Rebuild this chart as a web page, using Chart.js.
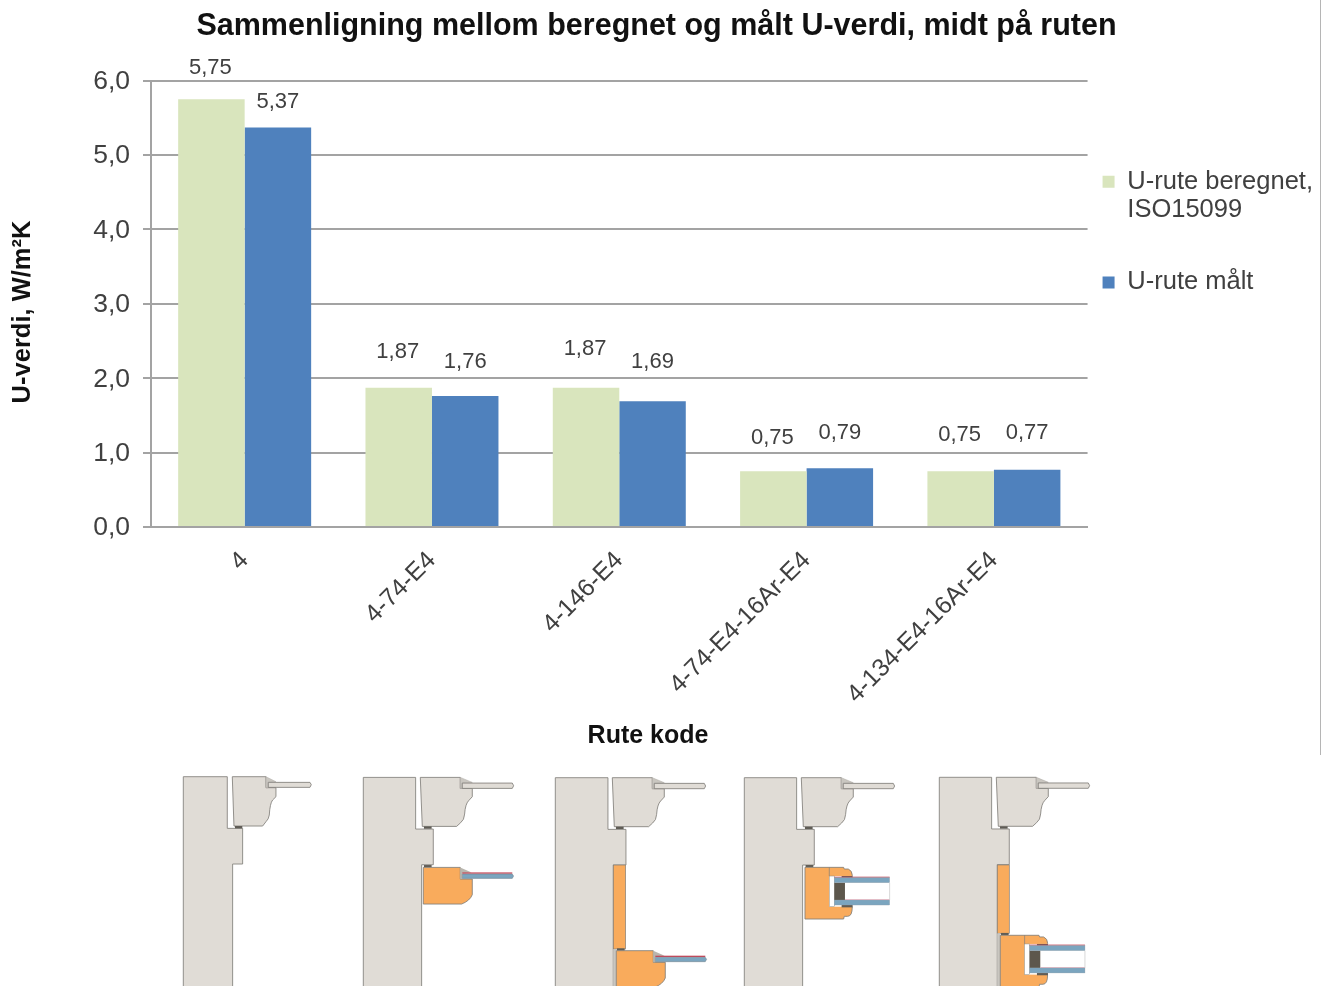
<!DOCTYPE html>
<html>
<head>
<meta charset="utf-8">
<title>U-verdi</title>
<script src="https://cdn.jsdelivr.net/npm/chart.js@4"></script>
<style>
html, body { margin: 0; padding: 0; background: #fff; overflow: hidden; }
#wrap { position: relative; width: 1330px; height: 986px; overflow: hidden; filter: blur(.45px); }
canvas { display: block; }
svg { position: absolute; left: 0; top: 0; }
#edge { position: absolute; left: 1320px; top: 0; width: 1px; height: 755px; background: #b5b5b5; }
</style>
</head>
<body>
<div id="wrap">
<canvas id="grafUverdi" width="1330" height="986"></canvas>
<div id="edge"></div>
<svg width="1330" height="986" viewBox="0 0 1330 986">
  <defs>
    <!-- karm og ramme, tegnet i 3x enheter -->
    <g id="ramme">
      <path d="M171 0H291V33H327V58L316 70Q306 80 304 110Q303 128 292 136L280 147H177Z" fill="#e0dcd6" stroke="#7f7d78" stroke-width="2.5"/>
      <path d="M291 0L327 15L297 17V33H291Z" fill="#c9c6c0" stroke="#a9a6a0" stroke-width="1.5"/>
      <path d="M297 17H447L451 25L447 33H297Z" fill="#e0dcd6" stroke="#7f7d78" stroke-width="2.5"/>
      <rect x="182" y="147" width="23" height="7" fill="#5f5c55"/>
    </g>
    <path id="karm" d="M0 0H157V155H210V262H175V640H0Z" fill="#e0dcd6" stroke="#7f7d78" stroke-width="2.5"/>
    <!-- enkel rute med oransje ramme -->
    <g id="enkel">
      <rect x="2" y="-7" width="23" height="7" fill="#5f5c55"/>
      <path d="M0 0H111V35H147V82Q140 100 115 110H0Z" fill="#f9ab5c" stroke="#7f7d78" stroke-width="2.5"/>
      <path d="M111 0L145 15L117 18V35H111Z" fill="#b9b6ae"/>
      <rect x="117" y="15" width="150" height="4" fill="#c4485a"/>
      <path d="M117 20H267L271 26L267 33H117Z" fill="#7ba5bf" stroke="#6f7c86" stroke-width="1.5"/>
    </g>
    <!-- dobbel rute med oransje ramme -->
    <g id="dobbel">
      <rect x="2" y="-7" width="23" height="7" fill="#5f5c55"/>
      <path d="M0 0H116L118 5H130Q142 10 142 24V118Q142 147 128 147H118L116 155H0Z" fill="#f9ab5c" stroke="#7f7d78" stroke-width="2.5"/>
      <path d="M73 0V26" stroke="#7f7d78" stroke-width="2" fill="none"/>
      <rect x="73" y="26" width="100" height="92" fill="#fff"/>
      <rect x="73" y="26" width="15" height="92" fill="#fff" stroke="#8a8880" stroke-width="1.5"/>
      <rect x="110" y="26" width="33" height="5" fill="#5f5c55"/>
      <rect x="110" y="113" width="33" height="7" fill="#5f5c55"/>
      <rect x="88" y="46" width="32" height="52" fill="#5d574c"/>
      <rect x="88" y="28" width="166" height="3" fill="#c4485a"/>
      <rect x="88" y="31" width="166" height="15" fill="#7ba5bf" stroke="#8e9aa3" stroke-width="1"/>
      <rect x="120" y="96" width="134" height="2" fill="#e9a3b4"/>
      <rect x="88" y="98" width="166" height="15" fill="#7ba5bf" stroke="#8e9aa3" stroke-width="1"/>
      <path d="M254 46V98" stroke="#c5c5c5" stroke-width="2" fill="none"/>
    </g>
  </defs>

  <!-- rute 4 -->
  <g transform="translate(183.3 776.7) scale(.3333)">
    <path d="M0 0H132V155H178V262H148V640H0Z" fill="#e0dcd6" stroke="#7f7d78" stroke-width="2.5"/>
    <path d="M147 0H248V33H278V60L268 70Q260 80 258 115Q256 128 248 135L238 148H152Z" fill="#e0dcd6" stroke="#7f7d78" stroke-width="2.5"/>
    <path d="M248 0L278 15L255 17V33H248Z" fill="#c9c6c0" stroke="#a9a6a0" stroke-width="1.5"/>
    <path d="M255 17H380L384 24L380 32H255Z" fill="#e0dcd6" stroke="#7f7d78" stroke-width="2.5"/>
    <rect x="155" y="148" width="22" height="7" fill="#5f5c55"/>
  </g>
  <!-- rute 4-74-E4 -->
  <g transform="translate(363.3 777.4) scale(.3333)">
    <use href="#karm"/>
    <use href="#ramme"/>
    <use href="#enkel" x="180" y="270"/>
  </g>
  <!-- rute 4-146-E4 -->
  <g transform="translate(555.3 777.7) scale(.3333)">
    <path d="M0 0H158V155H212V262H174V640H0Z" fill="#e0dcd6" stroke="#7f7d78" stroke-width="2.5"/>
    <rect x="174" y="262" width="37" height="252" fill="#f9ab5c" stroke="#7f7d78" stroke-width="2"/>
    <rect x="174" y="514" width="9" height="130" fill="#c9c6c0"/>
    <use href="#ramme"/>
    <use href="#enkel" x="183" y="519"/>
  </g>
  <!-- rute 4-74-E4-16Ar-E4 -->
  <g transform="translate(744.3 777.7) scale(.3333)">
    <use href="#karm"/>
    <use href="#ramme"/>
    <use href="#dobbel" x="182" y="269"/>
  </g>
  <!-- rute 4-134-E4-16Ar-E4 -->
  <g transform="translate(939.3 777.3) scale(.3333)">
    <path d="M0 0H157V155H210V262H174V640H0Z" fill="#e0dcd6" stroke="#7f7d78" stroke-width="2.5"/>
    <rect x="174" y="263" width="36" height="205" fill="#f9ab5c" stroke="#7f7d78" stroke-width="2"/>
    <rect x="174" y="468" width="9" height="170" fill="#c9c6c0"/>
    <use href="#ramme"/>
    <use href="#dobbel" x="183" y="474"/>
  </g>
</svg>
</div>

<script>
var ruteKoder = ['4', '4-74-E4', '4-146-E4', '4-74-E4-16Ar-E4', '4-134-E4-16Ar-E4'];
var beregnet = [5.75, 1.87, 1.87, 0.75, 0.75];
var maalt = [5.37, 1.76, 1.69, 0.79, 0.77];
var beregnetNavn = ['U-rute beregnet,', 'ISO15099', ''];
var maaltNavn = 'U-rute målt';
var xTittel = 'Rute kode';
var yTittel = 'U-verdi, W/m²K';

// avstand fra toppen av stolpen til tallet, den varierer litt i originalen
var loftBeregnet = [31, 36, 39, 33, 36];
var loftMaalt = [26, 34, 39, 35, 37];

var FONT = '"Liberation Sans", Arial, sans-serif';
var TEKST = '#404040';
var LINJE = '#a3a3a3';

function komma(v, des) {
    return Number(v).toFixed(des).replace('.', ',');
}

var tallPaaStolper = {
    id: 'tallPaaStolper',
    afterDatasetsDraw: function(chart) {
        var ctx = chart.ctx;
        ctx.save();
        ctx.font = '22px ' + FONT;
        ctx.fillStyle = TEKST;
        ctx.textAlign = 'center';
        ctx.textBaseline = 'middle';
        chart.getDatasetMeta(0).data.forEach(function(bar, i) {
            ctx.fillText(komma(beregnet[i], 2), bar.x - 1, bar.y - loftBeregnet[i]);
        });
        chart.getDatasetMeta(1).data.forEach(function(bar, i) {
            ctx.fillText(komma(maalt[i], 2), bar.x, bar.y - loftMaalt[i]);
        });
        ctx.restore();
    }
};

// aksetitlene står ikke midt på aksene i originalen
var akseTitler = {
    id: 'akseTitler',
    afterDraw: function(chart) {
        var ctx = chart.ctx;
        ctx.save();
        ctx.font = 'bold 25px ' + FONT;
        ctx.fillStyle = '#111';
        ctx.textAlign = 'center';
        ctx.textBaseline = 'middle';
        ctx.fillText(xTittel, 648, 736);
        ctx.translate(23, 312);
        ctx.rotate(-Math.PI / 2);
        ctx.font = 'bold 25.5px ' + FONT;
        ctx.fillText(yTittel, 0, 0);
        ctx.restore();
    }
};

// tittelen står litt til venstre for midten av lerretet
var flyttTittel = {
    id: 'flyttTittel',
    afterLayout: function(chart) {
        chart.titleBlock.left -= 5;
        chart.titleBlock.right -= 5;
    }
};

var ctx = document.getElementById('grafUverdi');
var graf = new Chart(ctx, {
    type: 'bar',
    plugins: [tallPaaStolper, akseTitler, flyttTittel],
    data: {
        labels: ruteKoder,
        datasets: [
            { label: beregnetNavn, data: beregnet, backgroundColor: '#d9e5bd', categoryPercentage: 0.71, barPercentage: 1 },
            { label: maaltNavn, data: maalt, backgroundColor: '#4f81bd', categoryPercentage: 0.71, barPercentage: 1 }
        ]
    },
    options: {
        responsive: false,
        animation: false,
        layout: { padding: { left: 0, top: 0, right: 7, bottom: 236 } },
        plugins: {
            tooltip: { enabled: false },
            title: {
                display: true,
                text: 'Sammenligning mellom beregnet og målt U-verdi, midt på ruten',
                color: '#111',
                font: { family: FONT, size: 30.5, weight: 'bold' },
                padding: { top: 8, bottom: 36 }
            },
            legend: {
                position: 'right',
                align: 'start',
                title: { display: true, text: ' ', font: { size: 10 }, padding: { top: 0, bottom: 142 } },
                labels: {
                    color: TEKST,
                    font: { family: FONT, size: 25.5, lineHeight: 1.12 },
                    boxWidth: 12,
                    boxHeight: 12,
                    padding: 15
                }
            }
        },
        scales: {
            x: {
                afterFit: function(scale) { scale.height = 223; },
                grid: { display: false },
                border: { color: LINJE, width: 2 },
                ticks: {
                    color: TEKST,
                    font: { family: FONT, size: 24.8 },
                    minRotation: 45,
                    maxRotation: 45,
                    autoSkip: false,
                    padding: 11
                }
            },
            y: {
                min: 0,
                max: 6,
                afterFit: function(scale) { scale.width = 151; },
                grid: { color: LINJE, lineWidth: 2, tickLength: 8 },
                border: { color: LINJE, width: 2 },
                ticks: {
                    stepSize: 1,
                    color: TEKST,
                    padding: 13,
                    labelOffset: 1,
                    font: { family: FONT, size: 26.5 },
                    callback: function(v) { return komma(v, 1); }
                }
            }
        }
    }
});
</script>
</body>
</html>
